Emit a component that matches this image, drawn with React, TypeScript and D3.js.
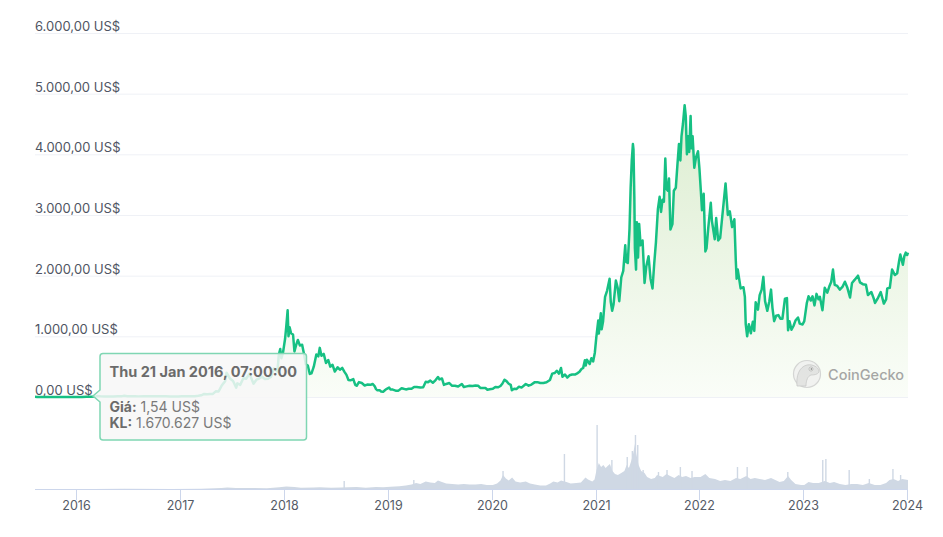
import React from "react";
import * as d3 from "d3";

type P = [string, number];

// ---- price data (US$) ----
const price2015: P[] = [["2015-08-08",2.77],["2015-08-15",1.7],["2015-09-01",1.35],["2015-09-15",0.95],["2015-10-01",0.73],["2015-10-20",0.5],["2015-11-05",1.0],["2015-11-20",0.92],["2015-12-05",0.85],["2015-12-20",0.88]];
const price2016: P[] = [["2016-01-05",0.95],["2016-01-21",1.54],["2016-02-05",2.5],["2016-02-20",4.8],["2016-03-05",9.8],["2016-03-13",14.5],["2016-03-25",10.6],["2016-04-10",8.7],["2016-04-25",7.5],["2016-05-10",9.9],["2016-05-25",12.6],["2016-06-10",14.1],["2016-06-17",20.5],["2016-06-28",12.5],["2016-07-15",11.9],["2016-07-25",13.8],["2016-08-05",10.3],["2016-08-25",11.2],["2016-09-10",12.0],["2016-09-25",13.0],["2016-10-10",11.9],["2016-10-25",11.5],["2016-11-10",10.7],["2016-11-25",8.9],["2016-12-10",8.0],["2016-12-25",7.2]];
const price2017: P[] = [["2017-01-05",11.0],["2017-01-20",10.6],["2017-02-05",11.4],["2017-02-20",12.8],["2017-03-05",19.2],["2017-03-15",28.5],["2017-03-25",50.2],["2017-04-05",43.5],["2017-04-15",48.0],["2017-04-25",50.2],["2017-05-05",94],["2017-05-15",90],["2017-05-25",180],["2017-06-01",225],["2017-06-07",260],["2017-06-12",400],["2017-06-18",355],["2017-06-25",300],["2017-07-05",265],["2017-07-16",155],["2017-07-20",225],["2017-07-30",200],["2017-08-10",310],["2017-08-20",300],["2017-09-01",385],["2017-09-08",300],["2017-09-15",220],["2017-09-25",285],["2017-10-05",305],["2017-10-15",335],["2017-10-25",295],["2017-11-05",300],["2017-11-15",330],["2017-11-25",470],["2017-12-01",460],["2017-12-08",420],["2017-12-13",700],["2017-12-18",790],["2017-12-22",640],["2017-12-28",740]];
const price2018: P[] = [["2018-01-04",960],["2018-01-08",1150],["2018-01-13",1430],["2018-01-16",1000],["2018-01-20",1150],["2018-01-25",1050],["2018-02-01",1030],["2018-02-06",750],["2018-02-12",860],["2018-02-18",940],["2018-02-25",850],["2018-03-05",860],["2018-03-12",700],["2018-03-18",540],["2018-03-25",520],["2018-04-01",380],["2018-04-07",390],["2018-04-15",500],["2018-04-24",700],["2018-05-01",670],["2018-05-06",810],["2018-05-12",680],["2018-05-20",710],["2018-05-28",560],["2018-06-05",610],["2018-06-12",500],["2018-06-20",530],["2018-06-28",420],["2018-07-08",490],["2018-07-16",450],["2018-07-24",480],["2018-08-01",415],["2018-08-08",365],["2018-08-15",280],["2018-08-22",275],["2018-09-01",295],["2018-09-08",200],["2018-09-13",185],["2018-09-21",245],["2018-10-01",230],["2018-10-11",190],["2018-10-20",205],["2018-11-01",200],["2018-11-08",215],["2018-11-15",180],["2018-11-20",130],["2018-11-25",110],["2018-12-03",110],["2018-12-08",92],["2018-12-15",85],["2018-12-22",115],["2018-12-28",135]];
const price2019: P[] = [["2019-01-05",155],["2019-01-10",125],["2019-01-18",122],["2019-01-28",105],["2019-02-07",105],["2019-02-18",145],["2019-02-25",135],["2019-03-05",125],["2019-03-15",135],["2019-03-25",135],["2019-04-03",165],["2019-04-12",165],["2019-04-25",155],["2019-05-05",162],["2019-05-14",250],["2019-05-22",245],["2019-05-30",270],["2019-06-08",235],["2019-06-15",265],["2019-06-26",330],["2019-07-01",290],["2019-07-10",305],["2019-07-17",200],["2019-07-25",215],["2019-08-05",230],["2019-08-15",185],["2019-08-25",185],["2019-09-05",172],["2019-09-18",215],["2019-09-25",165],["2019-10-05",175],["2019-10-15",185],["2019-10-26",180],["2019-11-05",188],["2019-11-15",185],["2019-11-22",150],["2019-12-01",150],["2019-12-10",148],["2019-12-17",120],["2019-12-25",128]];
const price2020: P[] = [["2020-01-05",135],["2020-01-14",165],["2020-01-24",160],["2020-02-01",182],["2020-02-08",222],["2020-02-15",285],["2020-02-22",262],["2020-03-01",218],["2020-03-08",200],["2020-03-12",110],["2020-03-20",135],["2020-03-28",130],["2020-04-06",170],["2020-04-15",155],["2020-04-30",215],["2020-05-10",187],["2020-05-20",205],["2020-06-01",245],["2020-06-10",245],["2020-06-20",230],["2020-07-01",230],["2020-07-12",242],["2020-07-24",280],["2020-08-01",385],["2020-08-10",395],["2020-08-17",432],["2020-08-25",385],["2020-09-01",478],["2020-09-06",335],["2020-09-15",370],["2020-09-23",320],["2020-10-01",358],["2020-10-10",370],["2020-10-20",370],["2020-10-28",390],["2020-11-05",415],["2020-11-12",462],["2020-11-18",480],["2020-11-24",605],["2020-11-27",520],["2020-12-01",615],["2020-12-11",545],["2020-12-17",640],["2020-12-23",585],["2020-12-29",730]];
const price2021: P[] = [["2021-01-03",975],["2021-01-10",1260],["2021-01-12",1045],["2021-01-19",1380],["2021-01-22",1115],["2021-01-27",1250],["2021-02-03",1650],["2021-02-10",1750],["2021-02-19",1950],["2021-02-23",1570],["2021-02-28",1420],["2021-03-05",1530],["2021-03-13",1920],["2021-03-19",1810],["2021-03-25",1580],["2021-04-01",1970],["2021-04-08",2080],["2021-04-15",2500],["2021-04-18",2230],["2021-04-24",2210],["2021-04-30",2770],["2021-05-04",3450],["2021-05-08",3900],["2021-05-12",4170],["2021-05-14",4080],["2021-05-17",3300],["2021-05-19",2450],["2021-05-23",2100],["2021-05-26",2880],["2021-05-30",2300],["2021-06-03",2850],["2021-06-08",2500],["2021-06-15",2580],["2021-06-22",1880],["2021-06-28",2150],["2021-07-06",2320],["2021-07-13",1950],["2021-07-20",1790],["2021-07-26",2200],["2021-08-01",2550],["2021-08-08",3100],["2021-08-14",3300],["2021-08-19",3050],["2021-08-24",3250],["2021-08-29",3220],["2021-09-03",3930],["2021-09-07",3430],["2021-09-12",3400],["2021-09-16",3600],["2021-09-21",2760],["2021-09-28",2850],["2021-10-03",3400],["2021-10-10",3450],["2021-10-16",3850],["2021-10-21",4170],["2021-10-26",3900],["2021-10-30",4300],["2021-11-04",4500],["2021-11-10",4810],["2021-11-14",4630],["2021-11-18",4000],["2021-11-22",4300],["2021-11-26",4040],["2021-12-01",4630],["2021-12-04",4100],["2021-12-08",4300],["2021-12-14",3780],["2021-12-20",3950],["2021-12-27",4050]];
const price2022: P[] = [["2022-01-01",3770],["2022-01-06",3400],["2022-01-10",3080],["2022-01-16",3350],["2022-01-22",2400],["2022-01-26",2450],["2022-02-01",2780],["2022-02-10",3200],["2022-02-14",2900],["2022-02-24",2600],["2022-03-01",2950],["2022-03-08",2580],["2022-03-15",2620],["2022-03-23",3000],["2022-04-03",3520],["2022-04-11",3000],["2022-04-18",3060],["2022-04-26",2800],["2022-05-04",2930],["2022-05-09",2250],["2022-05-12",1950],["2022-05-16",2100],["2022-05-26",1790],["2022-06-05",1810],["2022-06-10",1650],["2022-06-13",1200],["2022-06-18",1000],["2022-06-24",1200],["2022-07-01",1050],["2022-07-08",1240],["2022-07-13",1090],["2022-07-18",1560],["2022-07-26",1440],["2022-08-01",1680],["2022-08-08",1770],["2022-08-14",1980],["2022-08-20",1580],["2022-08-28",1420],["2022-09-04",1580],["2022-09-10",1770],["2022-09-15",1470],["2022-09-21",1250],["2022-09-28",1340],["2022-10-06",1350],["2022-10-13",1290],["2022-10-20",1290],["2022-10-29",1620],["2022-11-05",1630],["2022-11-09",1100],["2022-11-14",1250],["2022-11-21",1110],["2022-11-28",1170],["2022-12-05",1260],["2022-12-14",1310],["2022-12-20",1210],["2022-12-30",1195]];
const price2023: P[] = [["2023-01-05",1250],["2023-01-14",1550],["2023-01-20",1660],["2023-01-28",1590],["2023-02-03",1660],["2023-02-10",1510],["2023-02-17",1700],["2023-02-24",1610],["2023-03-01",1650],["2023-03-10",1430],["2023-03-18",1800],["2023-03-27",1720],["2023-04-03",1820],["2023-04-10",1900],["2023-04-16",2100],["2023-04-22",1850],["2023-05-01",1830],["2023-05-10",1770],["2023-05-20",1820],["2023-05-28",1900],["2023-06-05",1810],["2023-06-15",1640],["2023-06-22",1880],["2023-07-01",1930],["2023-07-13",2000],["2023-07-20",1890],["2023-07-30",1860],["2023-08-10",1850],["2023-08-17",1680],["2023-08-29",1730],["2023-09-06",1630],["2023-09-11",1550],["2023-09-20",1620],["2023-10-01",1730],["2023-10-12",1540],["2023-10-20",1610],["2023-10-24",1790],["2023-11-02",1800],["2023-11-10",2100],["2023-11-20",2010],["2023-11-28",2040],["2023-12-05",2250],["2023-12-09",2350],["2023-12-18",2180],["2023-12-23",2320],["2023-12-28",2380]];
const price2024: P[] = [["2024-01-02",2340],["2024-01-05",2380]];

// ---- volume data (tỷ US$) ----
const volBase2015to2018: P[] = [["2015-08-08",0.05],["2016-03-01",0.1],["2016-06-17",0.2],["2016-12-01",0.05],["2017-03-15",0.3],["2017-05-25",1.0],["2017-06-15",1.5],["2017-07-15",1.1],["2017-09-01",1.0],["2017-11-01",0.8],["2017-12-15",1.8],["2018-01-08",2.4],["2018-02-06",2.0],["2018-03-01",1.3],["2018-04-15",1.5],["2018-05-06",1.8],["2018-06-15",1.3],["2018-07-20",1.5],["2018-08-15",1.8],["2018-09-13",1.9],["2018-10-15",1.3],["2018-11-20",2.0],["2018-12-15",1.8]];
const volBase2019: P[] = [["2019-01-10",2.3],["2019-02-10",2.8],["2019-03-05",3.5],["2019-03-25",4.5],["2019-04-10",6.0],["2019-04-25",5.0],["2019-05-14",7.5],["2019-05-30",6.5],["2019-06-15",6.0],["2019-06-26",8.5],["2019-07-10",7.0],["2019-07-25",5.5],["2019-08-15",5.0],["2019-09-05",4.5],["2019-09-25",5.0],["2019-10-15",4.5],["2019-11-05",4.5],["2019-11-25",5.0],["2019-12-15",4.0]];
const volBase2020: P[] = [["2020-01-05",4.0],["2020-01-20",5.5],["2020-02-01",8.5],["2020-02-10",14.0],["2020-02-20",10.5],["2020-03-01",8.5],["2020-03-13",11.5],["2020-03-25",7.5],["2020-04-10",6.5],["2020-04-30",7.5],["2020-05-15",5.5],["2020-06-01",4.5],["2020-06-20",3.5],["2020-07-10",3.5],["2020-07-25",5.5],["2020-08-05",7.5],["2020-08-20",6.5],["2020-09-01",8.5],["2020-09-20",7.0],["2020-10-05",5.5],["2020-10-25",6.0],["2020-11-10",6.5],["2020-11-26",11.5],["2020-12-05",9.5],["2020-12-20",7.5],["2020-12-28",9.5]];
const volBase2021: P[] = [["2021-01-04",19],["2021-01-12",26],["2021-01-20",22],["2021-01-28",24],["2021-02-05",21],["2021-02-12",23],["2021-02-20",25],["2021-03-01",18],["2021-03-10",15],["2021-03-20",14],["2021-04-01",16],["2021-04-12",18],["2021-04-20",24],["2021-04-28",21],["2021-05-06",28],["2021-05-12",34],["2021-05-19",45],["2021-05-24",35],["2021-06-01",24],["2021-06-10",18],["2021-06-22",16],["2021-07-01",12],["2021-07-15",10],["2021-07-28",11],["2021-08-05",14],["2021-08-15",13],["2021-08-25",12],["2021-09-07",15],["2021-09-20",13],["2021-10-05",11],["2021-10-20",14],["2021-11-01",12],["2021-11-15",13],["2021-12-01",11],["2021-12-15",12]];
const volBase2022: P[] = [["2022-01-05",12],["2022-01-22",15],["2022-02-05",11],["2022-02-25",10],["2022-03-15",8],["2022-04-01",9],["2022-04-20",8],["2022-05-10",11],["2022-05-25",10],["2022-06-15",13],["2022-06-30",10],["2022-07-15",11],["2022-08-01",10],["2022-08-20",9],["2022-09-10",11],["2022-09-25",9],["2022-10-10",7],["2022-10-25",8],["2022-11-09",13],["2022-11-20",9],["2022-12-05",5],["2022-12-25",4]];
const volBase2023: P[] = [["2023-01-05",4],["2023-01-20",7],["2023-02-05",6],["2023-02-25",6],["2023-03-18",8],["2023-04-05",6],["2023-04-20",7],["2023-05-10",5],["2023-05-30",4],["2023-06-20",5],["2023-07-10",5],["2023-07-30",4],["2023-08-20",6],["2023-09-10",4],["2023-09-30",4],["2023-10-20",6],["2023-11-01",9],["2023-11-15",10],["2023-12-01",8],["2023-12-15",10],["2024-01-05",9]];
const volSpikes: P[] = [["2018-07-31",8],["2019-04-02",9],["2020-02-10",18],["2020-09-13",35],["2021-01-06",64],["2021-02-27",29],["2021-04-22",32],["2021-05-10",38],["2021-05-21",54],["2021-05-29",44],["2021-06-17",19],["2021-08-10",17],["2021-09-09",19],["2021-10-26",22],["2021-12-06",18],["2022-05-15",22],["2022-06-18",22],["2022-11-08",17],["2023-03-11",29],["2023-03-22",30],["2023-06-12",19],["2023-08-22",10],["2023-11-13",20],["2023-12-10",14]];

const yTicks = [0, 1000, 2000, 3000, 4000, 5000, 6000];
const xTickYears = [2016, 2017, 2018, 2019, 2020, 2021, 2022, 2023, 2024];

const tooltipDateText = "Thu 21 Jan 2016, 07:00:00";
const tooltipPrice = 1.54;
const tooltipVolume = 1670627;

const W = 943, H = 537;
const parse = d3.utcParse("%Y-%m-%d");
const vn = d3.formatLocale({ decimal: ",", thousands: ".", grouping: [3], currency: ["", " US$"] });
const fmt2 = vn.format(",.2f");
const fmt0 = vn.format(",.0f");

const FONT = "Inter, 'Noto Sans', sans-serif";

export default function App() {
  const prices = [...price2015, ...price2016, ...price2017, ...price2018, ...price2019, ...price2020, ...price2021, ...price2022, ...price2023, ...price2024].map(([d, v]) => ({ d: parse(d)!, v }));
  const vols = [...volBase2015to2018, ...volBase2019, ...volBase2020, ...volBase2021, ...volBase2022, ...volBase2023].map(([d, v]) => ({ d: parse(d)!, v }));
  const spikes = volSpikes.map(([d, v]) => ({ d: parse(d)!, v }));

  const x = d3.scaleUtc().domain([prices[0].d, prices[prices.length - 1].d]).range([35, 908]);
  const y = d3.scaleLinear().domain([0, 6000]).range([397, 33]);
  const yv = d3.scaleLinear().domain([0, 70]).range([489, 419]);

  const line = d3.line<{ d: Date; v: number }>().x(p => x(p.d)).y(p => y(p.v));
  const area = d3.area<{ d: Date; v: number }>().x(p => x(p.d)).y0(y(0)).y1(p => y(p.v));
  const volArea = d3.area<{ d: Date; v: number }>().x(p => x(p.d)).y0(yv(0)).y1(p => yv(p.v));

  return (
    <svg width={W} height={H} style={{ display: "block", position: "absolute", left: 0, top: 0, background: "#fff" }} fontFamily={FONT}>
      <defs>
        <linearGradient id="fillG" gradientUnits="userSpaceOnUse" x1="0" y1={y(4800)} x2="0" y2={y(0)}>
          <stop offset="0" stopColor="#dcedd0" />
          <stop offset="1" stopColor="#fafdf8" />
        </linearGradient>
      </defs>
      {/* grid */}
      {yTicks.map(t => (
        <line key={t} x1={35} x2={908} y1={y(t) + 0.5} y2={y(t) + 0.5} stroke="#eff1f6" strokeWidth={1} />
      ))}
      {yTicks.map(t => (
        <text key={"l" + t} x={35} y={y(t) - 2} fontSize={13} fill="#4f5563">{fmt2(t) + " US$"}</text>
      ))}
      {/* volume */}
      <path d={volArea(vols) || ""} fill="#cfd8e4" />
      {spikes.map((s, i) => (
        <rect key={i} x={x(s.d) - 0.7} width={1.4} y={yv(s.v)} height={yv(0) - yv(s.v)} fill="#cfd8e4" />
      ))}
      {/* price area + line */}
      <path d={area(prices) || ""} fill="url(#fillG)" />
      <path d={line(prices) || ""} fill="none" stroke="#16c083" strokeWidth={2.5} strokeLinejoin="round" />
      {/* x axis */}
      <line x1={35} x2={908} y1={489.5} y2={489.5} stroke="#ccd6eb" />
      {xTickYears.map(yr => {
        const xx = Math.round(x(new Date(Date.UTC(yr, 0, 1)))) + 0.5;
        return (
          <g key={yr}>
            <line x1={xx} x2={xx} y1={489} y2={500} stroke="#ccd6eb" />
            <text x={xx} y={510} textAnchor="middle" fontSize={12.5} fill="#555b66">{yr}</text>
          </g>
        );
      })}
      {/* watermark */}
      <g opacity={0.75}>
        <circle cx={807} cy={374} r={13.5} fill="#efefef" stroke="#c9c9c9" strokeWidth={1.2} />
        <path d="M797 386 C796 376 799 367 807 365 C813 364 818 367 819 371 C819 374 815 375 811 375 C808 376 806 380 806 386 Z" fill="#dcdcdc" stroke="#b9b9b9" strokeWidth={0.8} />
        <circle cx={811} cy={369} r={2} fill="#fff" stroke="#9a9a9a" strokeWidth={0.8} />
        <circle cx={811.3} cy={369} r={0.9} fill="#777" />
        <text x={828} y={380} fontSize={14.5} fill="#8a8a8a" fontWeight={500}>CoinGecko</text>
      </g>
      {/* tooltip */}
      <g>
        <path d="M103 353.5 H303.5 Q306.5 353.5 306.5 356.5 V437 Q306.5 440 303.5 440 H103 Q100 440 100 437 V402 L93 396 L100 390 V356.5 Q100 353.5 103 353.5 Z"
          fill="rgba(247,247,247,0.85)" stroke="#7fd6b3" strokeWidth={1.5} />
        <text x={109.5} y={377} fontSize={14.5} fontWeight={700} fill="#6b6b6b">{tooltipDateText}</text>
        <text x={109.5} y={412} fontSize={14} fill="#6b6b6b">
          <tspan fontWeight={700}>Giá:</tspan>
          <tspan fill="#7a7a7a"> {fmt2(tooltipPrice)} US$</tspan>
        </text>
        <text x={109.5} y={428} fontSize={14} fill="#6b6b6b">
          <tspan fontWeight={700}>KL:</tspan>
          <tspan fill="#7a7a7a"> {fmt0(tooltipVolume)} US$</tspan>
        </text>
      </g>
    </svg>
  );
}
